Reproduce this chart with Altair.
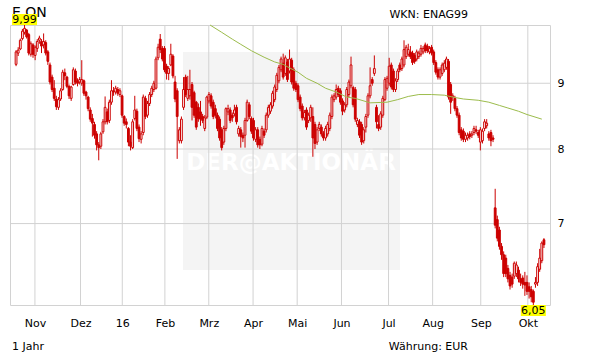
import altair as alt
import pandas as pd

# ---- data ----
opens = [
    9.31, 9.50, 9.57, 9.75, 9.86, 9.90, 9.82, 9.48, 9.64, 9.46,
    9.58, 9.72, 9.70, 9.64, 9.68, 9.52, 9.30, 9.10, 8.92, 8.75,
    8.62, 8.75, 8.90, 9.17, 9.10, 8.95, 8.76, 8.98, 9.20, 9.04,
    9.02, 9.00, 9.04, 8.86, 8.78, 8.58, 8.45, 8.36, 8.22, 8.06,
    8.04, 8.25, 8.40, 8.55, 8.42, 8.70, 8.88, 8.86, 8.90, 8.82,
    8.80, 8.48, 8.40, 8.30, 8.10, 8.02, 8.45, 8.56, 8.32, 8.14,
    8.24, 8.76, 8.50, 8.68, 8.82, 8.90, 8.92, 9.42, 9.74, 9.58,
    9.58, 9.28, 9.16, 9.30, 9.45, 9.02, 8.88, 8.12, 8.12, 8.62,
    9.10, 8.76, 8.80, 8.98, 8.85, 8.70, 8.62, 8.55, 8.48, 8.30,
    8.47, 8.72, 8.80, 8.70, 8.60, 8.50, 8.44, 8.28, 8.10, 8.30,
    8.55, 8.58, 8.50, 8.52, 8.62, 8.22, 8.28, 8.20, 8.20, 8.42,
    8.66, 8.45, 8.42, 8.14, 8.28, 8.14, 8.07, 8.26, 8.28, 8.50,
    8.56, 8.64, 8.74, 8.90, 9.04, 9.22, 9.33, 9.16, 9.35, 9.20,
    9.38, 9.22, 9.00, 8.96, 8.78, 8.64, 8.46, 8.58, 8.42, 8.46,
    8.48, 8.36, 8.10, 8.30, 8.32, 8.22, 8.16, 8.22, 8.30, 8.48,
    8.74, 8.78, 8.92, 8.88, 8.72, 8.58, 8.66, 8.82, 8.96, 8.93,
    8.90, 8.36, 8.40, 8.36, 8.12, 8.32, 8.50, 8.80, 9.06, 9.16,
    8.62, 8.36, 8.32, 8.50, 8.74, 8.92, 9.00, 9.30, 9.20, 8.90,
    9.06, 9.30, 9.24, 9.30, 9.44, 9.48, 9.52, 9.50, 9.46, 9.40,
    9.44, 9.48, 9.52, 9.64, 9.62, 9.52, 9.60, 9.52, 9.34, 9.22,
    9.10, 9.16, 9.22, 9.26, 9.36, 8.98, 8.78, 8.76, 8.60, 8.50,
    8.28, 8.26, 8.14, 8.16, 8.22, 8.20, 8.24, 8.28, 8.24, 8.10,
    8.12, 8.30, 8.34, 8.22, 8.24, 8.16, 7.20, 7.05, 6.92, 6.72,
    6.62, 6.58, 6.46, 6.38, 6.36, 6.37, 6.40, 6.44, 6.34, 6.35,
    6.30, 6.30, 6.25, 6.22, 6.20, 6.28, 6.30, 6.45, 6.55, 6.80,
]
highs = [
    9.55, 9.60, 9.75, 9.92, 9.99, 9.92, 9.85, 9.70, 9.67, 9.63,
    9.74, 9.80, 9.74, 9.84, 9.72, 9.55, 9.34, 9.14, 9.05, 8.80,
    8.78, 8.92, 9.22, 9.24, 9.12, 8.98, 8.96, 9.26, 9.24, 9.08,
    9.10, 9.38, 9.06, 8.88, 8.80, 8.62, 8.52, 8.40, 8.26, 8.10,
    8.25, 8.44, 8.79, 8.60, 8.74, 9.05, 8.94, 8.96, 8.94, 8.92,
    8.82, 8.50, 8.45, 8.32, 8.20, 8.44, 8.80, 8.60, 8.36, 8.26,
    8.82, 8.80, 8.72, 8.86, 8.96, 9.04, 9.44, 9.66, 9.83, 9.62,
    9.62, 9.32, 9.28, 9.66, 9.48, 9.12, 8.92, 8.32, 8.48, 9.10,
    9.14, 9.12, 9.22, 9.02, 8.88, 8.72, 8.68, 8.72, 8.52, 8.50,
    8.80, 8.86, 8.84, 8.74, 8.66, 8.54, 8.48, 8.32, 8.34, 8.62,
    8.66, 8.62, 8.54, 8.66, 8.66, 8.34, 8.32, 8.24, 8.46, 8.74,
    8.70, 8.48, 8.46, 8.32, 8.32, 8.18, 8.34, 8.30, 8.54, 8.66,
    8.70, 8.88, 8.98, 9.17, 9.30, 9.44, 9.49, 9.46, 9.40, 9.56,
    9.42, 9.26, 9.04, 9.00, 8.82, 8.68, 8.58, 8.62, 8.54, 8.66,
    8.62, 8.40, 8.32, 8.40, 8.36, 8.26, 8.34, 8.40, 8.54, 8.82,
    8.84, 8.98, 8.96, 8.92, 8.76, 8.70, 8.94, 9.06, 9.44, 8.96,
    8.94, 8.46, 8.44, 8.40, 8.32, 8.52, 8.84, 9.26, 9.10, 9.46,
    8.66, 8.50, 8.56, 8.80, 9.10, 9.12, 9.42, 9.34, 9.24, 9.08,
    9.24, 9.34, 9.44, 9.72, 9.64, 9.66, 9.62, 9.54, 9.50, 9.56,
    9.54, 9.64, 9.62, 9.68, 9.66, 9.62, 9.64, 9.56, 9.38, 9.26,
    9.26, 9.34, 9.38, 9.44, 9.40, 9.02, 8.84, 8.80, 8.64, 8.54,
    8.32, 8.30, 8.24, 8.24, 8.26, 8.26, 8.34, 8.34, 8.28, 8.32,
    8.30, 8.44, 8.44, 8.26, 8.28, 8.20, 7.45, 7.10, 6.96, 6.76,
    6.66, 6.62, 6.50, 6.42, 6.40, 6.54, 6.54, 6.48, 6.40, 6.38,
    6.42, 6.38, 6.30, 6.26, 6.22, 6.36, 6.52, 6.69, 6.78, 6.82,
]
lows = [
    9.28, 9.45, 9.55, 9.72, 9.82, 9.75, 9.46, 9.44, 9.42, 9.38,
    9.52, 9.66, 9.50, 9.58, 9.46, 9.30, 8.98, 8.86, 8.72, 8.58,
    8.58, 8.72, 8.88, 9.05, 8.92, 8.75, 8.72, 8.96, 8.98, 8.95,
    8.98, 8.96, 8.80, 8.74, 8.56, 8.40, 8.18, 8.15, 7.98, 7.84,
    8.00, 8.22, 8.36, 8.36, 8.38, 8.66, 8.80, 8.82, 8.80, 8.78,
    8.46, 8.34, 8.30, 8.04, 7.98, 8.00, 8.42, 8.26, 8.10, 8.08,
    8.20, 8.44, 8.46, 8.64, 8.78, 8.86, 8.90, 9.38, 9.50, 9.36,
    9.18, 9.06, 9.05, 9.28, 9.08, 8.70, 7.86, 8.08, 8.08, 8.58,
    8.78, 8.72, 8.74, 8.42, 8.46, 8.28, 8.40, 8.34, 8.38, 8.26,
    8.44, 8.68, 8.60, 8.44, 8.45, 8.26, 8.12, 7.98, 8.06, 8.26,
    8.50, 8.38, 8.40, 8.48, 8.36, 8.18, 8.02, 8.10, 8.02, 8.40,
    8.44, 8.22, 8.12, 8.10, 8.02, 8.00, 8.04, 8.16, 8.24, 8.46,
    8.52, 8.60, 8.70, 8.86, 9.00, 9.18, 9.06, 9.12, 9.02, 9.16,
    8.98, 8.88, 8.86, 8.70, 8.56, 8.42, 8.42, 8.28, 8.38, 8.40,
    7.89, 8.00, 8.06, 8.26, 8.18, 8.12, 8.12, 8.18, 8.26, 8.44,
    8.70, 8.74, 8.78, 8.66, 8.50, 8.54, 8.62, 8.78, 8.92, 8.62,
    8.40, 8.32, 8.16, 8.06, 8.08, 8.24, 8.46, 8.76, 8.96, 9.12,
    8.30, 8.26, 8.28, 8.46, 8.72, 8.88, 8.96, 8.90, 8.86, 8.86,
    9.02, 9.18, 9.20, 9.26, 9.40, 9.44, 9.40, 9.30, 9.32, 9.36,
    9.40, 9.44, 9.48, 9.50, 9.50, 9.48, 9.46, 9.30, 9.14, 9.06,
    9.06, 9.12, 9.18, 9.22, 8.74, 8.52, 8.72, 8.56, 8.46, 8.20,
    8.12, 8.10, 8.10, 8.12, 8.14, 8.16, 8.20, 8.22, 8.16, 7.98,
    8.08, 8.26, 8.30, 8.12, 8.04, 8.10, 6.94, 6.78, 6.68, 6.56,
    6.36, 6.36, 6.30, 6.22, 6.24, 6.34, 6.36, 6.30, 6.26, 6.23,
    6.15, 6.16, 6.12, 6.08, 6.05, 6.24, 6.26, 6.42, 6.52, 6.70,
]
closes = [
    9.52, 9.55, 9.72, 9.88, 9.93, 9.78, 9.50, 9.66, 9.48, 9.60,
    9.70, 9.76, 9.62, 9.70, 9.50, 9.36, 9.02, 8.90, 8.76, 8.63,
    8.74, 8.88, 9.18, 9.12, 8.95, 8.80, 8.94, 9.22, 9.02, 9.00,
    9.06, 9.06, 8.84, 8.80, 8.60, 8.44, 8.38, 8.20, 8.06, 8.02,
    8.22, 8.40, 8.62, 8.40, 8.70, 8.88, 8.86, 8.92, 8.84, 8.88,
    8.50, 8.38, 8.36, 8.10, 8.04, 8.40, 8.58, 8.30, 8.15, 8.22,
    8.78, 8.48, 8.68, 8.82, 8.92, 9.00, 9.40, 9.60, 9.56, 9.40,
    9.22, 9.16, 9.24, 9.48, 9.12, 8.75, 8.48, 8.28, 8.44, 8.90,
    8.82, 8.90, 8.90, 8.62, 8.50, 8.32, 8.45, 8.44, 8.42, 8.46,
    8.78, 8.82, 8.64, 8.48, 8.50, 8.30, 8.16, 8.02, 8.30, 8.60,
    8.60, 8.42, 8.46, 8.58, 8.40, 8.30, 8.18, 8.16, 8.42, 8.70,
    8.48, 8.26, 8.16, 8.28, 8.06, 8.06, 8.30, 8.20, 8.50, 8.62,
    8.66, 8.84, 8.94, 9.13, 9.26, 9.40, 9.10, 9.42, 9.06, 9.40,
    9.02, 8.92, 8.90, 8.74, 8.60, 8.46, 8.54, 8.32, 8.50, 8.62,
    8.16, 8.08, 8.28, 8.36, 8.22, 8.16, 8.30, 8.36, 8.50, 8.78,
    8.80, 8.90, 8.82, 8.70, 8.56, 8.66, 8.90, 9.02, 9.30, 8.66,
    8.44, 8.42, 8.20, 8.10, 8.28, 8.48, 8.80, 8.96, 9.00, 9.24,
    8.40, 8.30, 8.52, 8.76, 9.06, 9.08, 9.28, 8.94, 8.90, 9.04,
    9.20, 9.22, 9.40, 9.56, 9.60, 9.56, 9.44, 9.34, 9.36, 9.52,
    9.50, 9.58, 9.58, 9.54, 9.54, 9.58, 9.50, 9.34, 9.18, 9.10,
    9.22, 9.30, 9.33, 9.40, 8.78, 8.70, 8.80, 8.60, 8.50, 8.24,
    8.16, 8.14, 8.20, 8.20, 8.18, 8.22, 8.30, 8.26, 8.20, 8.28,
    8.26, 8.40, 8.38, 8.16, 8.12, 8.14, 6.98, 6.82, 6.72, 6.62,
    6.40, 6.40, 6.34, 6.26, 6.28, 6.52, 6.50, 6.34, 6.30, 6.28,
    6.27, 6.20, 6.20, 6.14, 6.08, 6.30, 6.48, 6.58, 6.76, 6.74,
]

# moving average (green line)
ma_index = [91.5, 97, 102, 106, 111, 117, 122, 126, 128, 133, 137, 142, 146, 151,
            156, 160, 167, 175, 180, 185, 190, 196, 202, 206, 211, 218, 223, 228,
            232, 237, 241, 248]
ma_values = [9.99, 9.86, 9.74, 9.65, 9.54, 9.43, 9.35, 9.31, 9.27, 9.18, 9.08, 9.00,
             8.92, 8.86, 8.78, 8.76, 8.69, 8.70, 8.74, 8.79, 8.82, 8.82, 8.81, 8.78,
             8.75, 8.73, 8.70, 8.65, 8.61, 8.56, 8.51, 8.44]

month_ticks = [8.9, 30.4, 50.1, 70.2, 90.9, 111.8, 132.6, 153.5, 175.7, 196.5, 219.2, 241.4]
month_labels = ["Nov", "Dez", "16", "Feb", "Mrz", "Apr", "Mai", "Jun", "Jul", "Aug", "Sep", "Okt"]
price_ticks = [7, 8, 9]

title_text = "E.ON"
wkn_text = "WKN: ENAG99"
period_text = "1 Jahr"
currency_text = "Währung: EUR"
watermark_text = "DER@AKTIONÄR"

# ---- styles ----
RED = "#cc0000"
GRID = "#d2d2d2"
GREEN = "#9cbc4c"
YELLOW = "#ffff00"
FONT = "DejaVu Sans"

df = pd.DataFrame({
    "i": list(range(len(closes))),
    "open": opens, "high": highs, "low": lows, "close": closes,
})
ma_df = pd.DataFrame({"i": ma_index, "v": ma_values})
one = pd.DataFrame({"k": [0]})

xs = alt.Scale(domain=[-0.5, 249.5], nice=False, zero=False)
ys = alt.Scale(type="log", domain=[6.05, 9.99], nice=False, zero=False)

label_expr = " : ".join(
    f"datum.value == {v} ? '{l}'" for v, l in zip(month_ticks, month_labels)
) + " : ''"

x_axis = alt.Axis(values=month_ticks, labelExpr=label_expr, grid=False, ticks=False,
                  domain=False, labelPadding=12, title=None, labelFont=FONT,
                  labelFontSize=11, labelColor="black", labelOverlap=False,
                  labelFlush=False)
y_axis = alt.Axis(orient="right", values=price_ticks, labelExpr="format(datum.value, 'd')",
                  grid=False, ticks=False, domain=False, labelPadding=7, title=None,
                  labelFont=FONT, labelFontSize=11, labelColor="black",
                  labelOverlap=False, labelFlush=False)


def X(field):
    return alt.X(field, scale=xs, axis=x_axis)


def Y(field):
    return alt.Y(field, scale=ys, axis=y_axis)


wm_rect = alt.Chart(one).mark_rect(color="#f4f4f4").encode(
    x=alt.value(173), x2=alt.value(390), y=alt.value(27), y2=alt.value(245))
wm_text = alt.Chart(one).mark_text(
    text=watermark_text, font=FONT, fontSize=23, fontWeight="bold", color="white",
    align="center", baseline="alphabetic").encode(x=alt.value(281), y=alt.value(145))

vgrid = alt.Chart(pd.DataFrame({"t": month_ticks})).mark_rule(
    color=GRID, strokeWidth=1).encode(x=X("t:Q"))
hgrid = alt.Chart(pd.DataFrame({"p": price_ticks})).mark_rule(
    color=GRID, strokeWidth=1).encode(y=Y("p:Q"))

base = alt.Chart(df)
wicks = base.mark_rule(color=RED, strokeWidth=1).encode(
    x=X("i:Q"), y=Y("low:Q"), y2="high:Q")
bodies = base.mark_bar(size=1.8, stroke=RED, strokeWidth=1).encode(
    x=X("i:Q"), y=Y("open:Q"), y2="close:Q",
    fill=alt.condition("datum.close >= datum.open", alt.value("white"), alt.value(RED)),
)

ma_line = alt.Chart(ma_df).mark_line(color=GREEN, strokeWidth=1).encode(
    x=X("i:Q"), y=Y("v:Q"))

BOX = "M-1,-0.44L1,-0.44L1,0.44L-1,0.44Z"

hi = (alt.Chart(df).transform_joinaggregate(m="max(high)")
      .transform_filter("datum.high == datum.m")
      .transform_calculate(lbl="replace(format(datum.high, '.2f'), '.', ',')"))
lo = (alt.Chart(df).transform_joinaggregate(m="min(low)")
      .transform_filter("datum.low == datum.m")
      .transform_calculate(lbl="replace(format(datum.low, '.2f'), '.', ',')"))

hi_box = hi.mark_point(shape=BOX, size=625, filled=True, color=YELLOW, opacity=1,
                       strokeWidth=0).encode(x=X("i:Q"), y=alt.value(-5.5))
hi_txt = hi.mark_text(font=FONT, fontSize=11, color="black", baseline="middle").encode(
    x=X("i:Q"), y=alt.value(-5), text="lbl:N")
lo_box = lo.mark_point(shape=BOX, size=625, filled=True, color=YELLOW, opacity=1,
                       strokeWidth=0).encode(x=X("i:Q"), y=alt.value(285.5))
lo_txt = lo.mark_text(font=FONT, fontSize=11, color="black", baseline="middle").encode(
    x=X("i:Q"), y=alt.value(286), text="lbl:N")

t_title = alt.Chart(one).mark_text(text=title_text, font=FONT, fontSize=14, color="black",
                                   align="left", baseline="alphabetic").encode(
    x=alt.value(2), y=alt.value(-8))
t_wkn = alt.Chart(one).mark_text(text=wkn_text, font=FONT, fontSize=11, color="black",
                                 align="right", baseline="alphabetic").encode(
    x=alt.value(458), y=alt.value(-7))
t_period = alt.Chart(one).mark_text(text=period_text, font=FONT, fontSize=11, color="black",
                                    align="left", baseline="alphabetic").encode(
    x=alt.value(2), y=alt.value(325))
t_cur = alt.Chart(one).mark_text(text=currency_text, font=FONT, fontSize=11, color="black",
                                 align="right", baseline="alphabetic").encode(
    x=alt.value(458), y=alt.value(325))

chart = alt.layer(
    wm_rect, wm_text, vgrid, hgrid, wicks, bodies, ma_line,
    t_title, hi_box, hi_txt, lo_box, lo_txt, t_wkn, t_period, t_cur,
).properties(
    width=540, height=280,
    padding={"left": 10, "top": 25, "right": 61, "bottom": 59},
    autosize=alt.AutoSizeParams(type="none"),
    background="white",
).configure_view(stroke=GRID, strokeWidth=1)

chart.save("out.html", embed_options={"renderer": "svg", "actions": False})
